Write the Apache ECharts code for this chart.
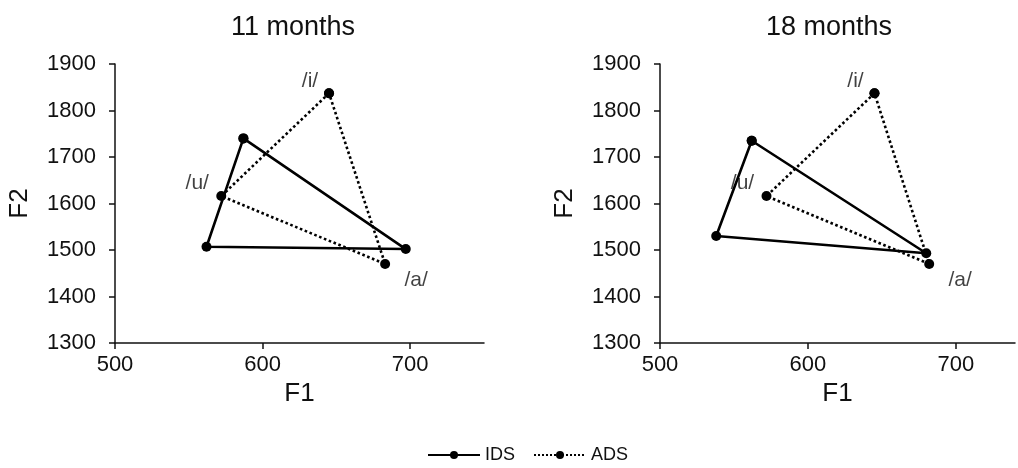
<!DOCTYPE html>
<html><head><meta charset="utf-8">
<script src="https://cdn.jsdelivr.net/npm/echarts@6/dist/echarts.min.js"></script>
<style>html,body{margin:0;padding:0;background:#fff}#c{width:1018px;height:468px}</style>
</head><body><div id="c"></div>
<script>
// Data (F1, F2) per vowel, order: /i/, /u/, /a/
const vowels = ['/i/', '/u/', '/a/'];
const panels = ['11 months', '18 months'];
const ids11 = [[587, 1740], [562, 1507], [697, 1502]];
const ads11 = [[645, 1837], [572, 1616], [683, 1470]];
const ids18 = [[562, 1735], [538, 1530], [680, 1493]];
const ads18 = [[645, 1837], [572, 1616], [682, 1470]];
const xTicks = [500, 600, 700];
const yTicks = [1300, 1400, 1500, 1600, 1700, 1800, 1900];

const font = 'Liberation Sans, Arial, sans-serif';
const labelOffsets = [[-19, -12], [-24, -13], [31, 16]];
const closeLoop = a => a.concat([a[0]]);

function makeAxes(gi, xMax) {
  const x = {
    type: 'value', gridIndex: gi, min: 500, max: xMax, interval: 100,
    name: 'F1', nameLocation: 'middle', nameGap: 38,
    nameTextStyle: { fontFamily: font, fontSize: 26, color: '#111' },
    axisLine: { show: true, lineStyle: { color: '#111', width: 1.5 } },
    axisTick: { show: true, inside: false, length: 6, customValues: xTicks,
      lineStyle: { color: '#111', width: 1.5 } },
    axisLabel: { fontFamily: font, fontSize: 22, color: '#111', margin: 11, customValues: xTicks,
      formatter: v => String(v) },
    splitLine: { show: false }
  };
  const y = {
    type: 'value', gridIndex: gi, min: yTicks[0], max: yTicks[yTicks.length - 1], interval: 100,
    name: 'F2', nameLocation: 'middle', nameGap: 82, nameRotate: 90,
    nameTextStyle: { fontFamily: font, fontSize: 26, color: '#111' },
    axisLine: { show: true, lineStyle: { color: '#111', width: 1.5 } },
    axisTick: { show: true, inside: false, length: 6, lineStyle: { color: '#111', width: 1.5 } },
    axisLabel: { fontFamily: font, fontSize: 22, color: '#111', margin: 19,
      formatter: v => String(v) },
    splitLine: { show: false }
  };
  return [x, y];
}

const ax0 = makeAxes(0, 750), ax1 = makeAxes(1, 740);

function lineSeries(name, data, gi, dotted) {
  return {
    name: name, type: 'line', xAxisIndex: gi, yAxisIndex: gi,
    data: closeLoop(data), symbol: 'circle', symbolSize: 10, showSymbol: true,
    lineStyle: { color: '#000', width: 2.6, type: dotted ? 'dotted' : 'solid' },
    itemStyle: { color: '#000' }, animation: false, z: dotted ? 3 : 4
  };
}
function labelSeries(data, gi) {
  return {
    type: 'scatter', xAxisIndex: gi, yAxisIndex: gi, symbolSize: 0, silent: true,
    itemStyle: { color: '#000' },
    data: data.map((p, i) => ({
      value: p,
      label: { show: true, position: 'inside', offset: labelOffsets[i], formatter: vowels[i],
        fontFamily: font, fontSize: 21, color: '#111', textBorderWidth: 0 }
    })),
    animation: false
  };
}

const option = {
  backgroundColor: '#fff',
  title: [
    { text: panels[0], left: 226, top: 9, textStyle: { fontFamily: font, fontSize: 27, fontWeight: 'normal', color: '#111' } },
    { text: panels[1], left: 761, top: 9, textStyle: { fontFamily: font, fontSize: 27, fontWeight: 'normal', color: '#111' } }
  ],
  grid: [
    { left: 115, top: 64, width: 369, height: 279 },
    { left: 660, top: 64, width: 355, height: 279 }
  ],
  xAxis: [ax0[0], ax1[0]],
  yAxis: [ax0[1], ax1[1]],
  legend: {
    top: 441, left: 422, itemWidth: 52, itemHeight: 10, itemGap: 18,
    textStyle: { fontFamily: font, fontSize: 18, color: '#111' },
    data: ['IDS', 'ADS']
  },
  series: [
    lineSeries('IDS', ids11, 0, false),
    lineSeries('ADS', ads11, 0, true),
    labelSeries(ads11, 0),
    lineSeries('IDS', ids18, 1, false),
    lineSeries('ADS', ads18, 1, true),
    labelSeries(ads18, 1)
  ]
};
const chart = echarts.init(document.getElementById('c'), null, { renderer: 'canvas' });
chart.setOption(option);
</script></body></html>
